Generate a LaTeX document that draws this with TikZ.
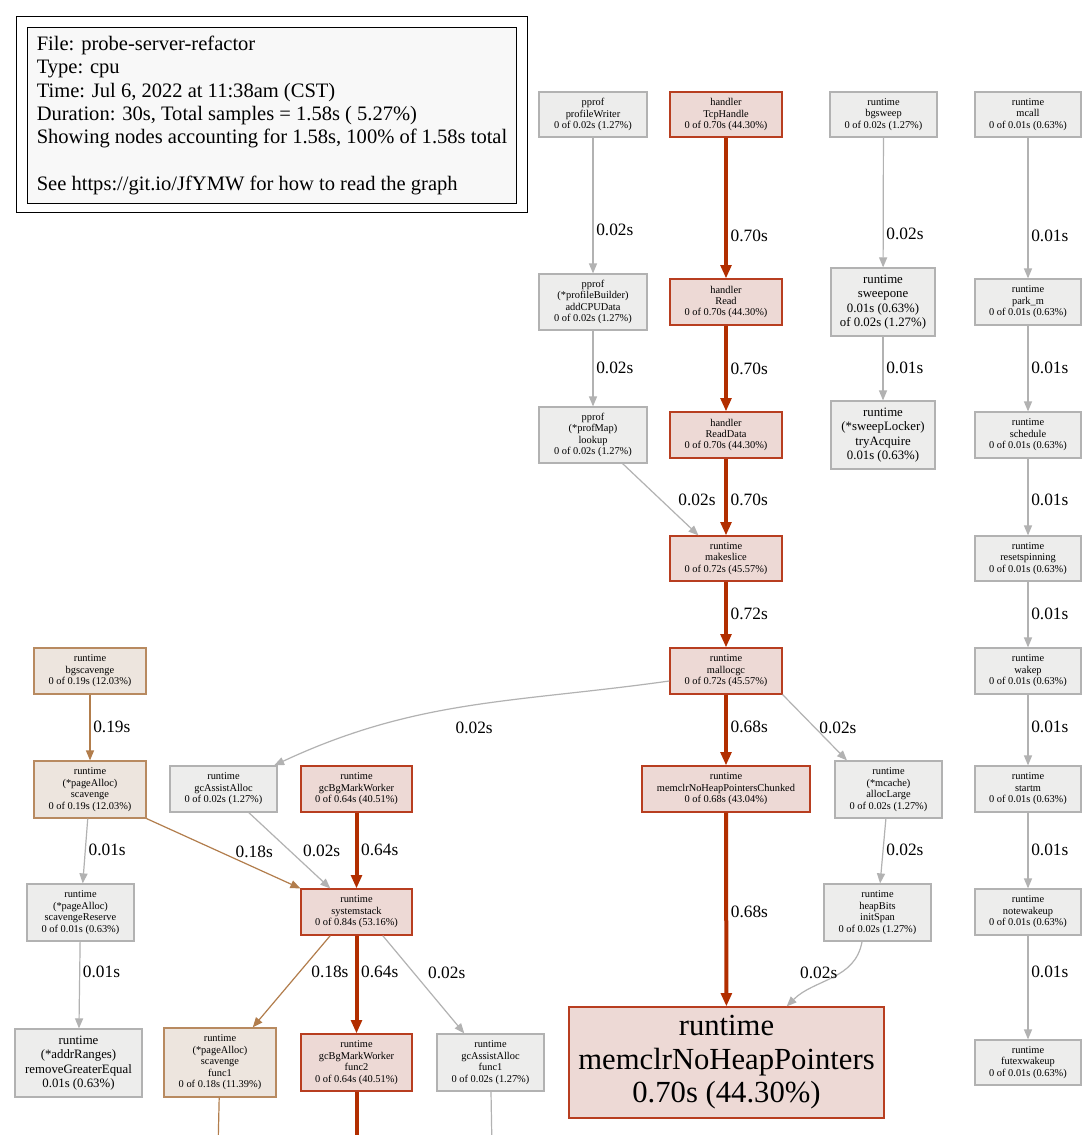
\documentclass[tikz,border=0pt]{standalone}
\usepackage{fontspec}
\setmainfont{Liberation Serif}
\usepackage{xcolor}
\usetikzlibrary{positioning, arrows.meta}

\definecolor{coldfill}{HTML}{EDEDEC}
\definecolor{coldline}{HTML}{B2B2B2}
\definecolor{hotfill}{HTML}{EDD9D5}
\definecolor{hotline}{HTML}{B83E20}
\definecolor{hotedge}{HTML}{B22E00}
\definecolor{warmfill}{HTML}{EDE5DE}
\definecolor{warmline}{HTML}{B88A60}
\definecolor{warmedge}{HTML}{B27D4C}
\definecolor{legfill}{HTML}{F8F8F8}

\begin{document}
\begin{tikzpicture}[
    x=0.75pt, y=-0.75pt,
    nd/.style={rectangle, draw, line width=0.9pt, inner sep=0pt, align=center, font=\fontsize{7.8}{8.6}\selectfont},
    cold/.style={nd, draw=coldline, fill=coldfill},
    hot/.style={nd, draw=hotline, fill=hotfill},
    warm/.style={nd, draw=warmline, fill=warmfill},
    boxw/.style={minimum width=#1*0.75pt},
    boxh/.style={minimum height=#1*0.75pt},
    midtxt/.style={font=\fontsize{9.6}{10.9}\selectfont},
    bigtxt/.style={font=\fontsize{23}{25.1}\selectfont},
    lbl/.style={font=\fontsize{13}{15}\selectfont, inner sep=2pt},
    cedge/.style={-{Triangle[length=7.5pt, width=6pt]}, draw=coldline, line width=0.9pt},
    wedge/.style={-{Triangle[length=7.5pt, width=6pt]}, draw=warmedge, line width=0.9pt},
    redge/.style={-{Triangle[length=10pt, width=8pt]}, draw=hotedge, line width=3pt},
]
    \useasboundingbox[fill=white] (0,0) rectangle (1092,1135);

    % legend
    \node[draw, line width=1pt, anchor=north west, boxw=511, boxh=196, inner sep=0pt] (legframe) at (16,16) {};
    \node[draw, fill=legfill, line width=0.8pt, anchor=north west, boxw=489, boxh=176, inner xsep=5pt, inner ysep=0pt,
          align=left, font=\fontsize{15.4}{17.5}\selectfont] (legend) at (27,27)
        {File: probe-server-refactor\\
         Type: cpu\\
         Time: Jul 6, 2022 at 11:38am (CST)\\
         Duration: 30s, Total samples = 1.58s ( 5.27\%)\\
         Showing nodes accounting for 1.58s, 100\% of 1.58s total\\[17.5pt]
         See https://git.io/JfYMW for how to read the graph};

    % row 1
    \node[cold, boxw=108, boxh=45] (pw) at (593,114.5) {pprof\\profileWriter\\0 of 0.02s (1.27\%)};
    \node[hot, boxw=112, boxh=45] (tcp) at (726,114.5) {handler\\TcpHandle\\0 of 0.70s (44.30\%)};
    \node[cold, boxw=107, boxh=45] (bgsw) at (883.5,114.5) {runtime\\bgsweep\\0 of 0.02s (1.27\%)};
    \node[cold, boxw=106, boxh=45] (mcall) at (1028,114.5) {runtime\\mcall\\0 of 0.01s (0.63\%)};

    % row 2
    \node[cold, boxw=108, boxh=56] (addcpu) at (593,302) {pprof\\(*profileBuilder)\\addCPUData\\0 of 0.02s (1.27\%)};
    \node[hot, boxw=112, boxh=46] (read) at (726,302) {handler\\Read\\0 of 0.70s (44.30\%)};
    \node[cold, midtxt, boxw=104, boxh=68] (sweepone) at (883,302) {runtime\\sweepone\\0.01s (0.63\%)\\of 0.02s (1.27\%)};
    \node[cold, boxw=106, boxh=46] (parkm) at (1028,302) {runtime\\park\_m\\0 of 0.01s (0.63\%)};

    % row 3
    \node[cold, boxw=108, boxh=56] (lookup) at (593,435) {pprof\\(*profMap)\\lookup\\0 of 0.02s (1.27\%)};
    \node[hot, boxw=112, boxh=46] (readdata) at (726,435) {handler\\ReadData\\0 of 0.70s (44.30\%)};
    \node[cold, midtxt, boxw=104, boxh=68] (tryacq) at (883,435) {runtime\\(*sweepLocker)\\tryAcquire\\0.01s (0.63\%)};
    \node[cold, boxw=106, boxh=46] (sched) at (1028,435) {runtime\\schedule\\0 of 0.01s (0.63\%)};

    % row 4
    \node[hot, boxw=112, boxh=45] (makeslice) at (726,558.5) {runtime\\makeslice\\0 of 0.72s (45.57\%)};
    \node[cold, boxw=106, boxh=45] (resetsp) at (1028,558.5) {runtime\\resetspinning\\0 of 0.01s (0.63\%)};

    % row 5
    \node[warm, boxw=112, boxh=46] (bgscav) at (90,671) {runtime\\bgscavenge\\0 of 0.19s (12.03\%)};
    \node[hot, boxw=112, boxh=46] (mallocgc) at (726,671) {runtime\\mallocgc\\0 of 0.72s (45.57\%)};
    \node[cold, boxw=106, boxh=46] (wakep) at (1028,671) {runtime\\wakep\\0 of 0.01s (0.63\%)};

    % row 6
    \node[warm, boxw=112, boxh=57] (pscav) at (90,789.5) {runtime\\(*pageAlloc)\\scavenge\\0 of 0.19s (12.03\%)};
    \node[cold, boxw=107, boxh=46] (assist) at (223.5,789) {runtime\\gcAssistAlloc\\0 of 0.02s (1.27\%)};
    \node[hot, boxw=111, boxh=46] (markw) at (356.5,789) {runtime\\gcBgMarkWorker\\0 of 0.64s (40.51\%)};
    \node[hot, boxw=168, boxh=46] (chunked) at (726,789) {runtime\\memclrNoHeapPointersChunked\\0 of 0.68s (43.04\%)};
    \node[cold, boxw=107, boxh=57] (alloclarge) at (888.5,789.5) {runtime\\(*mcache)\\allocLarge\\0 of 0.02s (1.27\%)};
    \node[cold, boxw=106, boxh=46] (startm) at (1028,789) {runtime\\startm\\0 of 0.01s (0.63\%)};

    % row 7
    \node[cold, boxw=107, boxh=57] (scavres) at (80.5,912.5) {runtime\\(*pageAlloc)\\scavengeReserve\\0 of 0.01s (0.63\%)};
    \node[hot, boxw=111, boxh=46] (sysstack) at (356.5,912) {runtime\\systemstack\\0 of 0.84s (53.16\%)};
    \node[cold, boxw=107, boxh=57] (initspan) at (877.5,912.5) {runtime\\heapBits\\initSpan\\0 of 0.02s (1.27\%)};
    \node[cold, boxw=106, boxh=46] (notewake) at (1028,912) {runtime\\notewakeup\\0 of 0.01s (0.63\%)};

    % row 8
    \node[cold, midtxt, boxw=127, boxh=68] (removege) at (78.5,1063) {runtime\\(*addrRanges)\\removeGreaterEqual\\0.01s (0.63\%)};
    \node[warm, boxw=112, boxh=69] (scavf1) at (220,1062.5) {runtime\\(*pageAlloc)\\scavenge\\func1\\0 of 0.18s (11.39\%)};
    \node[hot, boxw=111, boxh=57] (markf2) at (356.5,1062.5) {runtime\\gcBgMarkWorker\\func2\\0 of 0.64s (40.51\%)};
    \node[cold, boxw=107, boxh=57] (assistf1) at (490.5,1062.5) {runtime\\gcAssistAlloc\\func1\\0 of 0.02s (1.27\%)};
    \node[hot, bigtxt, boxw=315, boxh=111] (memclr) at (726.5,1062.5) {runtime\\memclrNoHeapPointers\\0.70s (44.30\%)};
    \node[cold, boxw=106, boxh=45] (futex) at (1028,1062.5) {runtime\\futexwakeup\\0 of 0.01s (0.63\%)};

    % edges leaving the page
    \coordinate (out1) at (218,1150);
    \coordinate (out2) at (356.5,1150);
    \coordinate (out3) at (492,1150);

    \draw[cedge] (pw) -- node[lbl, pos=.68, right] {0.02s} (addcpu);
    \draw[redge] (tcp) -- node[lbl, pos=.7, right] {0.70s} (read);
    \draw[cedge] (bgsw) -- node[lbl, pos=.74, right] {0.02s} (sweepone);
    \draw[cedge] (mcall) -- node[lbl, pos=.7, right] {0.01s} (parkm);
    \draw[cedge] (addcpu) -- node[lbl, pos=.49, right] {0.02s} (lookup);
    \draw[redge] (read) -- node[lbl, pos=.5, right] {0.70s} (readdata);
    \draw[cedge] (sweepone) -- node[lbl, pos=.49, right] {0.01s} (tryacq);
    \draw[cedge] (parkm) -- node[lbl, pos=.49, right] {0.01s} (sched);
    \draw[cedge] (lookup.-44) -- node[lbl, pos=.5, right=11pt] {0.02s} (makeslice.140);
    \draw[redge] (readdata) -- node[lbl, pos=.54, right] {0.70s} (makeslice);
    \draw[cedge] (sched) -- node[lbl, pos=.54, right] {0.01s} (resetsp);
    \draw[redge] (makeslice) -- node[lbl, pos=.49, right] {0.72s} (mallocgc);
    \draw[cedge] (resetsp) -- node[lbl, pos=.49, right] {0.01s} (wakep);
    \draw[cedge] (mallocgc.190) to[out=188, in=25] node[lbl, pos=.48, below=10pt] {0.02s} (assist.25);
    \draw[redge] (mallocgc) -- node[lbl, pos=.46, right] {0.68s} (chunked);
    \draw[cedge] (mallocgc.south east) -- node[lbl, pos=.5, right=1pt] {0.02s} (alloclarge.145);
    \draw[cedge] (wakep) -- node[lbl, pos=.46, right] {0.01s} (startm);
    \draw[wedge] (bgscav) -- node[lbl, pos=.49, right] {0.19s} (pscav);
    \draw[cedge] (pscav) -- node[lbl, pos=.48, right] {0.01s} (scavres);
    \draw[wedge] (pscav.south east) -- node[lbl, pos=.7, above=5pt] {0.18s} (sysstack.north west);
    \draw[cedge] (assist.-43) -- node[lbl, pos=.5, right=7.7pt] {0.02s} (sysstack.138);
    \draw[redge] (markw) -- node[lbl, pos=.49, right] {0.64s} (sysstack);
    \draw[redge] (chunked) -- node[lbl, pos=.51, right] {0.68s} (memclr);
    \draw[cedge] (alloclarge) -- node[lbl, pos=.48, right] {0.02s} (initspan);
    \draw[cedge] (startm) -- node[lbl, pos=.49, right] {0.01s} (notewake);
    \draw[cedge] (scavres) -- node[lbl, pos=.35, right] {0.01s} (removege);
    \draw[wedge] (sysstack.-138) -- node[lbl, pos=.4, right=6.6pt] {0.18s} (scavf1.47);
    \draw[redge] (sysstack) -- node[lbl, pos=.37, right] {0.64s} (markf2);
    \draw[cedge] (sysstack.-42) -- node[lbl, pos=.38, right=8.4pt] {0.02s} (assistf1.132);
    \draw[cedge] (initspan.-118) to[out=-100, in=45] node[lbl, pos=.4, left=0pt] {0.02s} (memclr.43);
    \draw[cedge] (notewake) -- node[lbl, pos=.35, right] {0.01s} (futex);
    \draw[wedge, -] (scavf1) -- (out1);
    \draw[redge, -] (markf2) -- (out2);
    \draw[cedge, -] (assistf1) -- (out3);
\end{tikzpicture}
\end{document}
